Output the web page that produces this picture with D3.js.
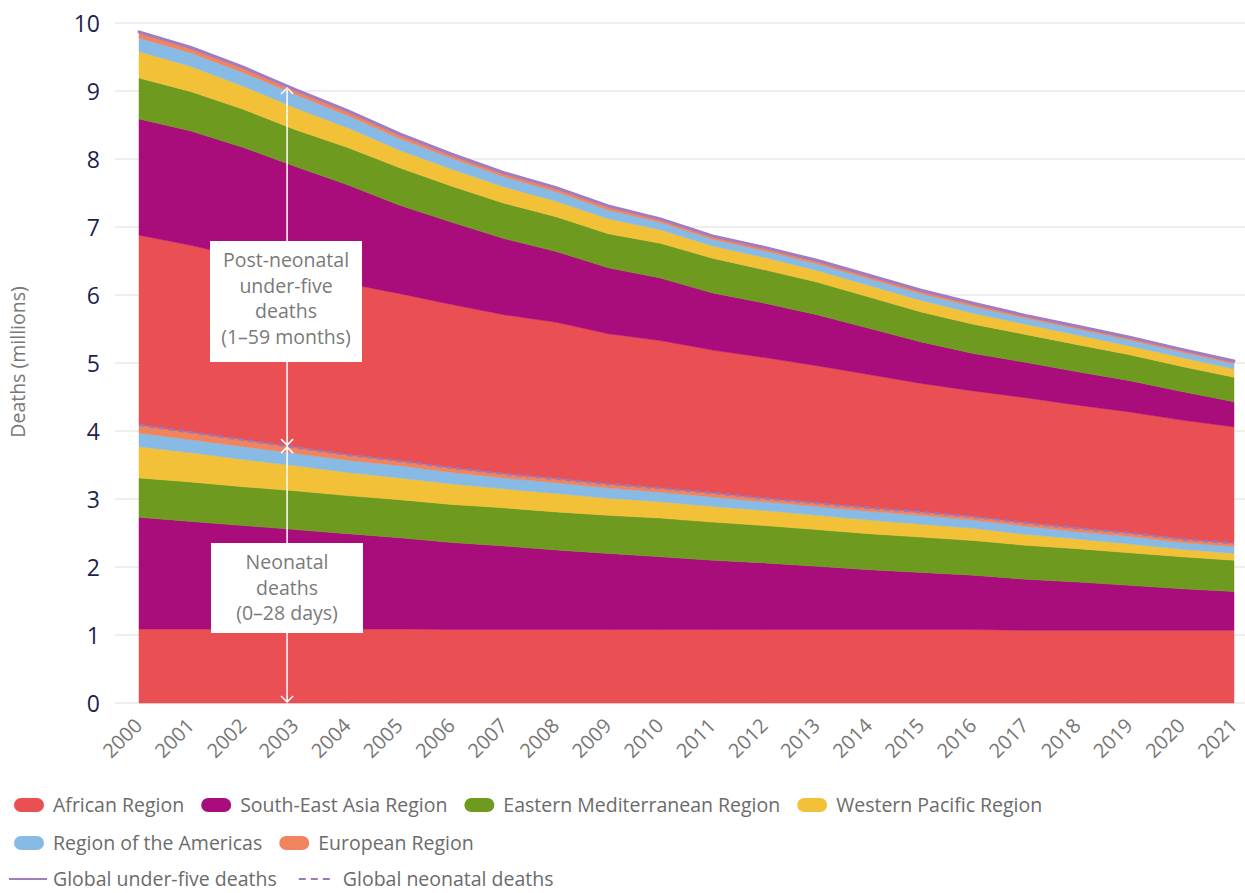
<!DOCTYPE html>
<html>
<head>
<meta charset="utf-8">
<script src="https://cdn.jsdelivr.net/npm/d3@7"></script>
<style>
  body { margin: 0; background: #fff; }
  svg { display: block; font-family: "Open Sans", "Noto Sans", sans-serif; }
</style>
</head>
<body>
<svg id="chart" width="1245" height="893"></svg>
<script>
// years on the x axis
const years = [2000, 2001, 2002, 2003, 2004, 2005, 2006, 2007, 2008, 2009, 2010,
               2011, 2012, 2013, 2014, 2015, 2016, 2017, 2018, 2019, 2020, 2021];

// neonatal deaths (0-28 days), millions
const neoAfrican   = [1.09,1.09,1.09,1.09,1.09,1.09,1.08,1.08,1.08,1.08,1.08,1.08,1.08,1.08,1.08,1.08,1.08,1.07,1.07,1.07,1.07,1.07];
const neoSEAsia    = [1.64,1.58,1.52,1.46,1.40,1.34,1.28,1.23,1.17,1.12,1.07,1.02,0.98,0.93,0.88,0.84,0.80,0.75,0.71,0.66,0.61,0.57];
const neoEastMed   = [0.58,0.58,0.57,0.57,0.56,0.56,0.56,0.56,0.56,0.56,0.57,0.56,0.55,0.54,0.53,0.52,0.51,0.50,0.49,0.48,0.47,0.46];
const neoWestPac   = [0.46,0.43,0.40,0.37,0.34,0.32,0.30,0.28,0.27,0.25,0.24,0.23,0.22,0.21,0.20,0.19,0.18,0.16,0.14,0.13,0.11,0.10];
const neoAmericas  = [0.20,0.19,0.19,0.18,0.18,0.18,0.17,0.16,0.16,0.15,0.14,0.14,0.13,0.13,0.13,0.13,0.12,0.12,0.11,0.11,0.10,0.10];
const neoEuropean  = [0.12,0.11,0.10,0.09,0.08,0.07,0.07,0.06,0.06,0.06,0.06,0.06,0.05,0.05,0.05,0.05,0.05,0.05,0.05,0.05,0.05,0.05];

// post-neonatal under-five deaths (1-59 months), millions
const postAfrican  = [2.79,2.75,2.68,2.59,2.52,2.46,2.40,2.34,2.30,2.21,2.17,2.10,2.07,2.02,1.96,1.89,1.85,1.84,1.81,1.78,1.75,1.71];
const postSEAsia   = [1.71,1.68,1.62,1.54,1.45,1.30,1.21,1.12,1.04,0.97,0.92,0.84,0.80,0.75,0.68,0.61,0.55,0.52,0.49,0.46,0.42,0.37];
const postEastMed  = [0.60,0.58,0.56,0.54,0.55,0.55,0.53,0.52,0.51,0.50,0.51,0.51,0.49,0.48,0.46,0.44,0.43,0.41,0.40,0.38,0.37,0.36];
const postWestPac  = [0.39,0.37,0.34,0.32,0.29,0.26,0.25,0.24,0.23,0.22,0.20,0.18,0.18,0.17,0.17,0.17,0.16,0.15,0.14,0.13,0.13,0.12];
const postAmericas = [0.20,0.20,0.20,0.20,0.18,0.17,0.16,0.15,0.14,0.13,0.11,0.10,0.10,0.10,0.10,0.10,0.10,0.09,0.09,0.09,0.08,0.08];
const postEuropean = [0.09,0.08,0.08,0.07,0.07,0.07,0.06,0.06,0.06,0.06,0.05,0.05,0.05,0.05,0.05,0.05,0.05,0.04,0.04,0.04,0.04,0.04];

const regionNames  = ["African Region", "South-East Asia Region", "Eastern Mediterranean Region",
                      "Western Pacific Region", "Region of the Americas", "European Region"];
const regionColors = ["#e94f53", "#a80d7b", "#6e9b1f", "#f3c138", "#87bae5", "#f0845f"];
const yTicks = [0, 1, 2, 3, 4, 5, 6, 7, 8, 9, 10];

const neoSeries  = [neoAfrican, neoSEAsia, neoEastMed, neoWestPac, neoAmericas, neoEuropean];
const postSeries = [postAfrican, postSEAsia, postEastMed, postWestPac, postAmericas, postEuropean];

// build table for d3.stack: neonatal regions first, post-neonatal on top
const keys = [];
regionNames.forEach((r, i) => keys.push("neo" + i));
regionNames.forEach((r, i) => keys.push("post" + i));
const table = years.map((yr, j) => {
  const row = { year: yr };
  neoSeries.forEach((s, i) => row["neo" + i] = s[j]);
  postSeries.forEach((s, i) => row["post" + i] = s[j]);
  return row;
});
const neoTotal = years.map((yr, j) => d3.sum(neoSeries, s => s[j]));
const allTotal = years.map((yr, j) => neoTotal[j] + d3.sum(postSeries, s => s[j]));

const svg = d3.select("#chart");
const x = d3.scaleLinear().domain([2000, 2021]).range([139, 1234]);
const y = d3.scaleLinear().domain([0, 10]).range([703, 23]);

// gridlines
svg.append("g").selectAll("line").data(yTicks).enter().append("line")
  .attr("x1", 115).attr("x2", 1245)
  .attr("y1", d => y(d)).attr("y2", d => y(d))
  .attr("stroke", "#e8e8e8").attr("stroke-width", 1.5);

// stacked areas
const stacked = d3.stack().keys(keys)(table);
const area = d3.area()
  .x(d => x(d.data.year))
  .y0(d => y(d[0]))
  .y1(d => y(d[1]));
svg.append("g").selectAll("path").data(stacked).enter().append("path")
  .attr("d", area)
  .attr("fill", (d, i) => regionColors[i % 6])
  .attr("stroke", (d, i) => regionColors[i % 6])
  .attr("stroke-width", 0.5);

// global lines
const line = d3.line().x((d, j) => x(years[j])).y(d => y(d));
svg.append("path").attr("d", line(neoTotal))
  .attr("fill", "none").attr("stroke", "#9a78bc").attr("stroke-width", 2.5)
  .attr("stroke-dasharray", "6,4");
svg.append("path").attr("d", line(allTotal))
  .attr("fill", "none").attr("stroke", "#a07cc0").attr("stroke-width", 3)
  .attr("stroke-linecap", "round");

// y axis
const yAxis = svg.append("g").attr("transform", "translate(100,0)")
  .call(d3.axisLeft(y).tickValues(yTicks).tickSize(0).tickPadding(0).tickFormat(d3.format("d")));
yAxis.select(".domain").remove();
yAxis.selectAll("text").attr("font-size", 23).attr("fill", "#1f1f4f")
  .attr("font-family", "'Open Sans', sans-serif").attr("dy", "0.35em");

svg.append("text")
  .attr("transform", "translate(25,362) rotate(-90)")
  .attr("text-anchor", "middle").attr("font-size", 19.5).attr("fill", "#777")
  .text("Deaths (millions)");

// x axis
const xAxis = svg.append("g").attr("transform", "translate(0,703)")
  .call(d3.axisBottom(x).tickValues(years).tickSize(0).tickFormat(d3.format("d")));
xAxis.select(".domain").remove();
xAxis.selectAll("text")
  .attr("font-size", 20).attr("fill", "#777")
  .attr("font-family", "'Open Sans', sans-serif")
  .attr("text-anchor", "end")
  .attr("dy", 0).attr("y", 0)
  .attr("transform", "translate(4,24) rotate(-45)");

// annotation arrows
const annYear = 2002.84;
const j0 = 2, t = annYear - years[j0];
const topVal = allTotal[j0] + t * (allTotal[j0 + 1] - allTotal[j0]);
const midVal = neoTotal[j0] + t * (neoTotal[j0 + 1] - neoTotal[j0]);
const ax = x(annYear);
const ann = svg.append("g").attr("stroke", "#fff").attr("stroke-width", 1.5).attr("fill", "none");
ann.append("line").attr("x1", ax).attr("x2", ax).attr("y1", y(topVal) + 2).attr("y2", y(0) - 1);
function chevron(yy, dir) {
  ann.append("path").attr("d", `M${ax - 6},${yy + dir * 6} L${ax},${yy} L${ax + 6},${yy + dir * 6}`);
}
chevron(y(topVal) + 2, 1);
chevron(y(midVal) - 1, -1);
chevron(y(midVal) + 1, 1);
chevron(y(0) - 1, -1);

function labelBox(x0, y0, w, h, lines) {
  svg.append("rect").attr("x", x0).attr("y", y0).attr("width", w).attr("height", h).attr("fill", "#fff");
  const tx = svg.append("text").attr("text-anchor", "middle").attr("font-size", 19.5).attr("fill", "#7a7a7a");
  lines.forEach((l, i) => {
    tx.append("tspan").attr("x", x0 + w / 2).attr("y", y0 + 26 + i * 25.5).text(l);
  });
}
labelBox(210, 241, 152, 121, ["Post-neonatal", "under-five", "deaths", "(1\u201359 months)"]);
labelBox(211, 543, 152, 90, ["Neonatal", "deaths", "(0\u201328 days)"]);

// legend
const legend = svg.append("g").attr("font-size", 19.5).attr("fill", "#6b6b6b");
const rows = [[0, 1, 2, 3], [4, 5]];
rows.forEach((row, r) => {
  let lx = 14;
  const ly = 805 + r * 38;
  row.forEach(i => {
    legend.append("rect").attr("x", lx).attr("y", ly - 7).attr("width", 30).attr("height", 14)
      .attr("rx", 7).attr("fill", regionColors[i]);
    const tx = legend.append("text").attr("x", lx + 39).attr("y", ly).attr("dy", "0.35em").text(regionNames[i]);
    lx = lx + 39 + tx.node().getComputedTextLength() + 17;
  });
});
const ly3 = 879;
legend.append("line").attr("x1", 9).attr("x2", 47).attr("y1", ly3).attr("y2", ly3)
  .attr("stroke", "#a07cc0").attr("stroke-width", 2);
const g1 = legend.append("text").attr("x", 53).attr("y", ly3).attr("dy", "0.35em").text("Global under-five deaths");
const dx = 53 + g1.node().getComputedTextLength() + 22;
legend.append("line").attr("x1", dx).attr("x2", dx + 36).attr("y1", ly3).attr("y2", ly3)
  .attr("stroke", "#9a78bc").attr("stroke-width", 2).attr("stroke-dasharray", "7,5");
legend.append("text").attr("x", dx + 44).attr("y", ly3).attr("dy", "0.35em").text("Global neonatal deaths");
</script>
</body>
</html>
